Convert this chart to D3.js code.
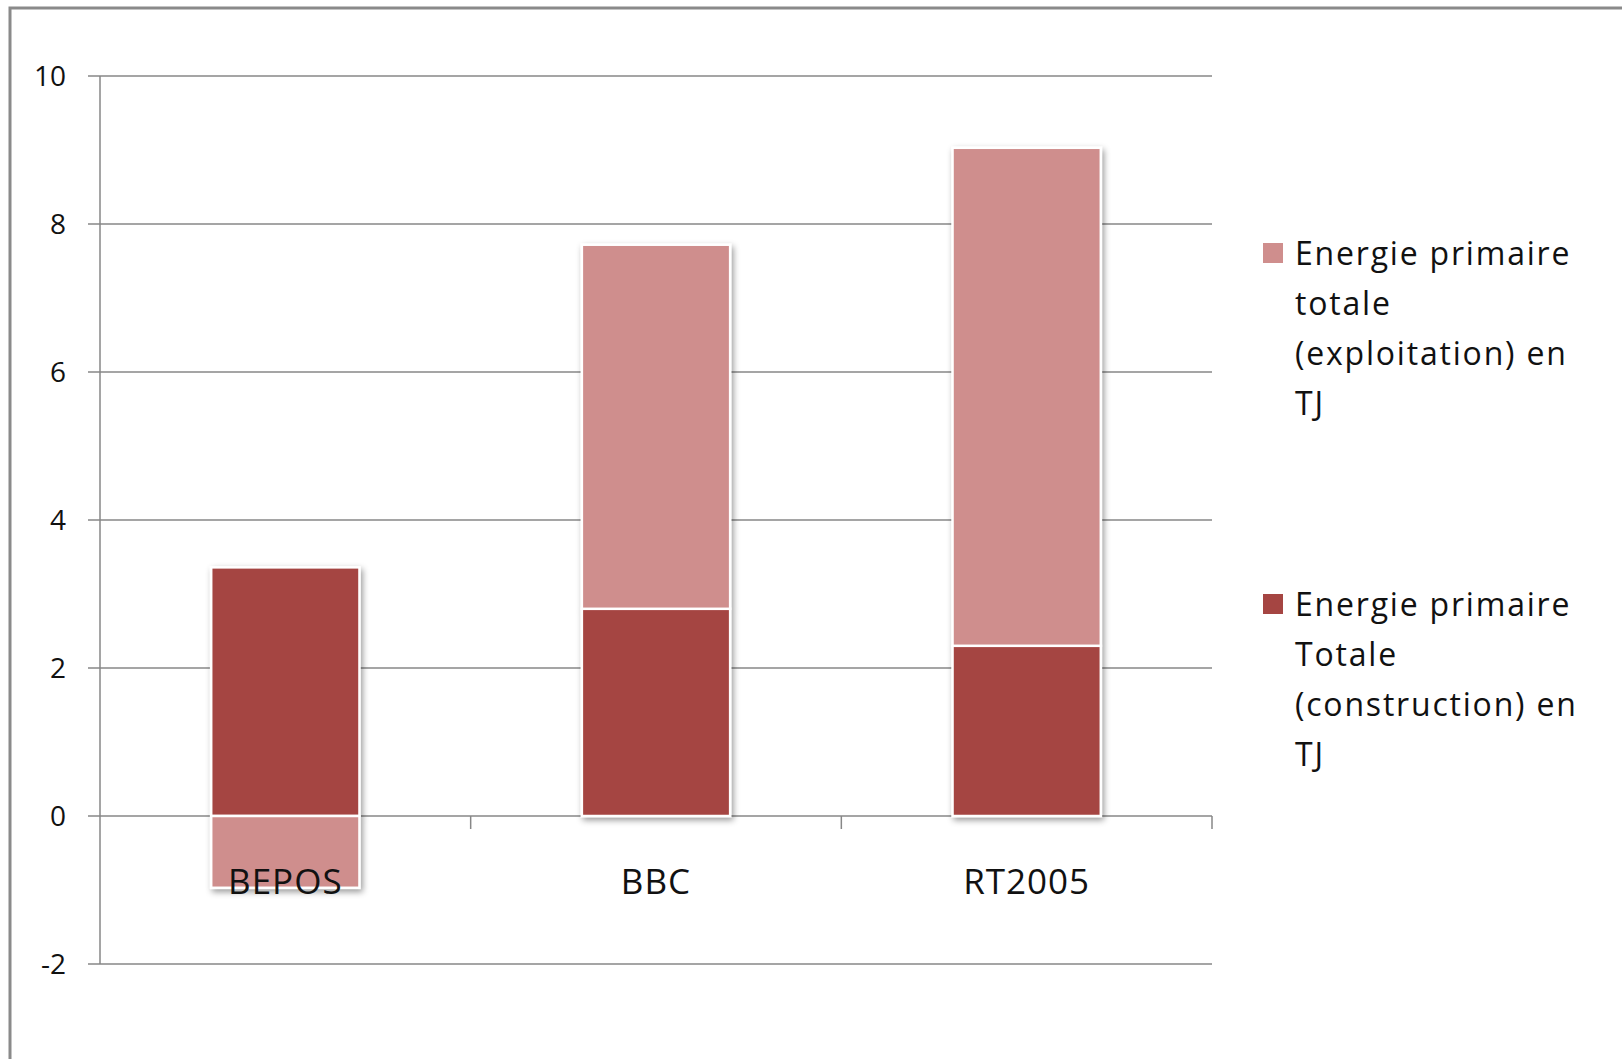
<!DOCTYPE html>
<html>
<head>
<meta charset="utf-8">
<script src="https://cdn.jsdelivr.net/npm/d3@7"></script>
<style>
  body { margin: 0; background: #fff; }
  svg text { font-family: "Open Sans", Lato, sans-serif; fill: #111; }
</style>
</head>
<body>
<div class="layout"></div>
<script>
// chart data
var categories = ["BEPOS", "BBC", "RT2005"];
var construction = [3.36, 2.80, 2.30];
var exploitation = [-0.97, 4.92, 6.73];
var yTicks = [-2, 0, 2, 4, 6, 8, 10];
var seriesKeys = ["construction", "exploitation"];
var legendLines = {
  exploitation: ["Energie primaire", "totale", "(exploitation) en", "TJ"],
  construction: ["Energie primaire", "Totale", "(construction) en", "TJ"]
};
var colors = { construction: "#a54542", exploitation: "#cf8e8d" };

const width = 1622;
const height = 1059;

var svg = d3.select("div.layout")
  .append("svg")
  .attr("width", width)
  .attr("height", height);

// shadow under the bars
var defs = svg.append("defs");
defs.append("filter")
  .attr("id", "shadow")
  .attr("x", "-20%").attr("y", "-20%")
  .attr("width", "140%").attr("height", "140%")
  .append("feDropShadow")
  .attr("dx", 2).attr("dy", 3)
  .attr("stdDeviation", 3)
  .attr("flood-color", "#000")
  .attr("flood-opacity", 0.4);

// outer frame
svg.append("rect")
  .attr("x", 10).attr("y", 8)
  .attr("width", 1700).attr("height", 1200)
  .attr("fill", "none")
  .attr("stroke", "#8a8a8a")
  .attr("stroke-width", 3);

var x = d3.scaleBand()
  .domain(categories)
  .range([100, 1212])
  .paddingInner(0.6)
  .paddingOuter(0.3);

var y = d3.scaleLinear()
  .domain([-2, 10])
  .range([964, 76]);

// gridlines + y labels
var grid = svg.append("g").attr("class", "grid");
grid.selectAll("line")
  .data(yTicks)
  .enter()
  .append("line")
  .attr("x1", 88).attr("x2", 1212)
  .attr("y1", function(d) { return y(d); })
  .attr("y2", function(d) { return y(d); })
  .attr("stroke", "#878787")
  .attr("stroke-width", 1.5);

svg.append("g")
  .selectAll("text")
  .data(yTicks)
  .enter()
  .append("text")
  .attr("x", 66)
  .attr("y", function(d) { return y(d); })
  .attr("dy", "0.36em")
  .attr("text-anchor", "end")
  .attr("font-size", 28)
  .text(function(d) { return d; });

// y axis line
svg.append("line")
  .attr("x1", 100).attr("x2", 100)
  .attr("y1", y(10)).attr("y2", y(-2))
  .attr("stroke", "#878787")
  .attr("stroke-width", 1.5);

// category tick marks on the zero line
var step = x.step();
svg.append("g")
  .selectAll("line")
  .data(categories)
  .enter()
  .append("line")
  .attr("x1", function(d, i) { return 100 + step * (i + 1); })
  .attr("x2", function(d, i) { return 100 + step * (i + 1); })
  .attr("y1", y(0)).attr("y2", y(0) + 13)
  .attr("stroke", "#878787")
  .attr("stroke-width", 1.5);

// stacked bars
var rows = categories.map(function(c, i) {
  return { cat: c, construction: construction[i], exploitation: exploitation[i] };
});
var stacked = d3.stack()
  .keys(seriesKeys)
  .offset(d3.stackOffsetDiverging)(rows);

var barGroups = svg.append("g")
  .selectAll("g.bar")
  .data(categories)
  .enter()
  .append("g")
  .attr("class", "bar")
  .attr("filter", "url(#shadow)");

barGroups.each(function(cat, i) {
  var g = d3.select(this);
  stacked.forEach(function(serie) {
    var seg = serie[i];
    g.append("rect")
      .attr("x", x(cat))
      .attr("width", x.bandwidth())
      .attr("y", y(Math.max(seg[0], seg[1])))
      .attr("height", Math.abs(y(seg[0]) - y(seg[1])))
      .attr("fill", colors[serie.key])
      .attr("stroke", "#fff")
      .attr("stroke-width", 2.5);
  });
});

// category labels
svg.append("g")
  .selectAll("text")
  .data(categories)
  .enter()
  .append("text")
  .attr("x", function(d) { return x(d) + x.bandwidth() / 2; })
  .attr("y", 881)
  .attr("dy", "0.36em")
  .attr("text-anchor", "middle")
  .attr("font-size", 35)
  .attr("letter-spacing", 1)
  .text(function(d) { return d; });

// legend (exploitation listed first, like excel does for stacks)
var legendOrder = ["exploitation", "construction"];
var legendTop = [253, 604];
var legend = svg.append("g")
  .selectAll("g.legend")
  .data(legendOrder)
  .enter()
  .append("g")
  .attr("class", "legend")
  .attr("transform", function(d, i) { return "translate(1263," + legendTop[i] + ")"; });

legend.append("rect")
  .attr("x", 0).attr("y", -10)
  .attr("width", 20).attr("height", 20)
  .attr("fill", function(d) { return colors[d]; });

legend.selectAll("text")
  .data(function(d) { return legendLines[d]; })
  .enter()
  .append("text")
  .attr("x", 32)
  .attr("y", function(d, i) { return i * 50; })
  .attr("dy", "0.36em")
  .attr("font-size", 32)
  .attr("letter-spacing", 1.8)
  .text(function(d) { return d; });
</script>
</body>
</html>
